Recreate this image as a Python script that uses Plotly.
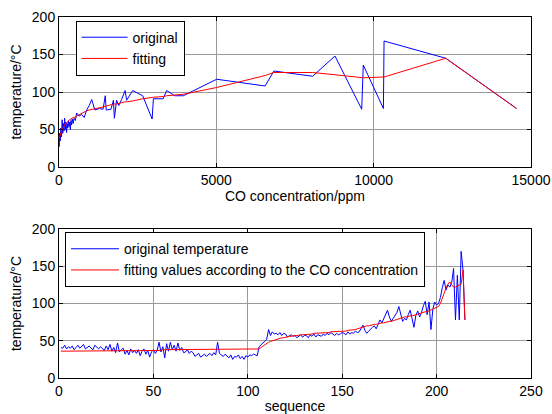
import plotly.graph_objects as go
from plotly.subplots import make_subplots

# ---------- top panel: temperature vs CO concentration ----------
co_conc = [10, 20, 40, 60, 80, 100, 120, 140, 160, 180, 200, 220, 240, 260, 280,
           300, 320, 340, 360, 380, 400, 420, 450, 480, 520, 560, 640, 720, 800, 880,
           960, 1040, 1140, 1280, 1400, 1470, 1500, 1650, 1730, 1760, 1830, 1900, 1990,
           2100, 2150, 2340, 2660, 2960, 3000, 3310, 3420, 3680, 3950, 5010, 6550, 6830,
           8060, 8770, 9620, 9670, 10310, 10330, 12290, 14540]
temp_orig = [27, 45, 35, 52, 40, 63, 45, 58, 48, 65, 50, 60, 46, 58, 52,
             62, 54, 60, 50, 62, 56, 64, 58, 65, 62, 72, 68, 70, 66, 76,
             82, 90, 76, 78, 77, 95, 76, 77, 89, 65, 89, 82, 90,
             102, 89, 102, 95, 64, 91, 91, 102, 95, 95, 117, 108, 128,
             121, 148, 77, 136, 78, 168, 145, 78]
temp_fit = [38, 40, 43, 46, 48, 50, 52, 53, 55, 56, 57, 58, 59, 60, 61,
            62, 62, 63, 64, 64, 65, 65, 66, 66, 67, 68, 70, 72, 73, 75,
            76, 77, 78, 79, 80, 81, 81, 83, 83, 84, 84, 85, 86,
            87, 87, 88, 91, 93, 93, 94, 95, 96, 97, 106, 122, 126,
            126, 123, 119, 119, 120, 120, 145, 78]
co_ticks = [0, 5000, 10000, 15000]
co_tick_labels = ["0", "5000", "10000", "15000"]

# ---------- bottom panel: temperature vs sequence ----------
seq_temp = [41, 40, 44, 39, 42, 40, 43, 38, 41, 44,
            40, 42, 45, 39, 41, 43, 40, 38, 44, 41,
            39, 42, 40, 37, 43, 38, 45, 36, 41, 34,
            47, 35, 38, 40, 32, 37, 31, 39, 34, 37,
            33, 38, 30, 36, 39, 32, 37, 28, 35, 38,
            33, 37, 48, 35, 42, 27, 46, 36, 48, 38,
            44, 36, 47, 37, 41, 34, 35, 38, 33, 36,
            34, 29, 31, 33, 28, 30, 32, 29, 31, 33,
            30, 34, 31, 48, 33, 31, 29, 32, 30, 27,
            31, 25, 29, 28, 31, 26, 29, 25, 30, 28,
            31, 30, 32, 31, 30, 42, 45, 47, 49, 52,
            65, 57, 62, 59, 60, 58, 61, 57, 60, 59,
            55, 57, 58, 56, 57, 54, 56, 58, 55, 57,
            57, 54, 58, 56, 59, 55, 58, 57, 56, 59,
            57, 60, 58, 61, 59, 57, 60, 58, 59, 61,
            60, 58, 62, 59, 61, 60, 63, 61, 62, 66,
            71, 64, 60, 63, 66, 68, 70, 66, 72, 78,
            74, 80, 85, 91, 82, 76, 80, 84, 88, 96,
            86, 76, 80, 78, 85, 91, 80, 68, 84, 90,
            82, 88, 97, 103, 85, 102, 65, 92, 102, 98,
            100, 108, 121, 131, 118, 125, 122, 128, 147, 78,
            138, 78, 170, 145, 78]
seq_fit = [36, 36, 36, 36, 36, 36, 36, 36, 36, 36,
           36, 36, 36, 36, 36, 36, 36, 36, 36, 36,
           36, 36, 36, 36, 36, 36, 36, 36, 36, 36,
           36, 36, 36, 36, 36, 36, 36, 36, 36, 36,
           36, 36, 36, 36, 36, 36, 36, 36, 36, 36,
           36, 36, 37, 37, 38, 38, 38, 38, 38, 38,
           38, 38, 38, 38, 38, 38, 38, 38, 38, 38,
           38, 38, 38, 38, 38, 38, 38, 38, 38, 38,
           38, 38, 38, 38, 38, 38, 38, 38, 38, 38,
           38, 38, 38, 38, 38, 38, 38, 38, 38, 38,
           38, 38, 38, 38, 38, 39, 41, 43, 45, 47,
           48, 49, 50, 51, 52, 53, 53, 54, 54, 55,
           55, 56, 56, 57, 57, 57, 58, 58, 58, 58,
           59, 59, 59, 59, 60, 60, 60, 60, 61, 61,
           61, 61, 61, 62, 62, 62, 62, 62, 63, 63,
           63, 63, 64, 64, 64, 65, 65, 66, 67, 68,
           68, 69, 70, 70, 71, 71, 72, 72, 73, 73,
           74, 74, 75, 75, 76, 76, 77, 78, 79, 80,
           81, 81, 82, 82, 83, 83, 84, 84, 85, 86,
           86, 87, 88, 89, 89, 90, 91, 92, 93, 94,
           96, 100, 108, 115, 121, 126, 129, 125, 122, 122,
           123, 124, 126, 145, 78]
sequence = list(range(1, len(seq_temp) + 1))

FONT = "Liberation Sans, Arial, sans-serif"
FS = 14
BLUE = "#0000FF"
RED = "#FF0000"

fig = make_subplots(rows=2, cols=1, vertical_spacing=0.17)

fig.add_trace(go.Scatter(x=co_conc, y=temp_orig, mode="lines", name="original",
                         line=dict(color=BLUE, width=1), legend="legend"), row=1, col=1)
fig.add_trace(go.Scatter(x=co_conc, y=temp_fit, mode="lines", name="fitting",
                         line=dict(color=RED, width=1), legend="legend"), row=1, col=1)
fig.add_trace(go.Scatter(x=sequence, y=seq_temp, mode="lines", name="original temperature",
                         line=dict(color=BLUE, width=1), legend="legend2"), row=2, col=1)
fig.add_trace(go.Scatter(x=sequence, y=seq_fit, mode="lines",
                         name="fitting values according to the CO concentration",
                         line=dict(color=RED, width=1), legend="legend2"), row=2, col=1)

tfont = dict(family=FONT, size=FS, color="black")
axis_common = dict(showline=True, linecolor="black", linewidth=1, mirror="ticks",
                   ticks="inside", ticklen=4, tickcolor="black", automargin=False,
                   showgrid=True, gridcolor="#9a9a9a", gridwidth=1, zeroline=False,
                   tickfont=tfont)

fig.update_xaxes(**axis_common)
fig.update_yaxes(**axis_common)

fig.update_xaxes(range=[0, 15000], tickvals=co_ticks, ticktext=co_tick_labels,
                 title=dict(text="CO concentration/ppm", font=tfont, standoff=4), row=1, col=1)
fig.update_yaxes(range=[0, 200], tickvals=[0, 50, 100, 150, 200],
                 title=dict(text="temperature/°C", font=tfont, standoff=6), row=1, col=1)
fig.update_xaxes(range=[0, 250], tickvals=[0, 50, 100, 150, 200, 250],
                 title=dict(text="sequence", font=tfont, standoff=4), row=2, col=1)
fig.update_yaxes(range=[0, 200], tickvals=[0, 50, 100, 150, 200],
                 title=dict(text="temperature/°C", font=tfont, standoff=6), row=2, col=1)

fig.update_layout(
    width=552, height=414,
    margin=dict(l=59, r=21, t=17, b=36, autoexpand=False),
    paper_bgcolor="white", plot_bgcolor="white",
    font=tfont,
    yaxis=dict(domain=[0.5845, 1.0]),
    yaxis2=dict(domain=[0.0, 0.4127]),
    legend=dict(x=0.035, y=0.99, xanchor="left", yanchor="top",
                bgcolor="white", bordercolor="black", borderwidth=1,
                font=tfont, tracegroupgap=0, itemwidth=46),
    legend2=dict(x=0.0127, y=0.404, xanchor="left", yanchor="top",
                 bgcolor="white", bordercolor="black", borderwidth=1,
                 font=tfont, tracegroupgap=0, itemwidth=48),
    showlegend=True,
)

fig.write_html("out.html")
